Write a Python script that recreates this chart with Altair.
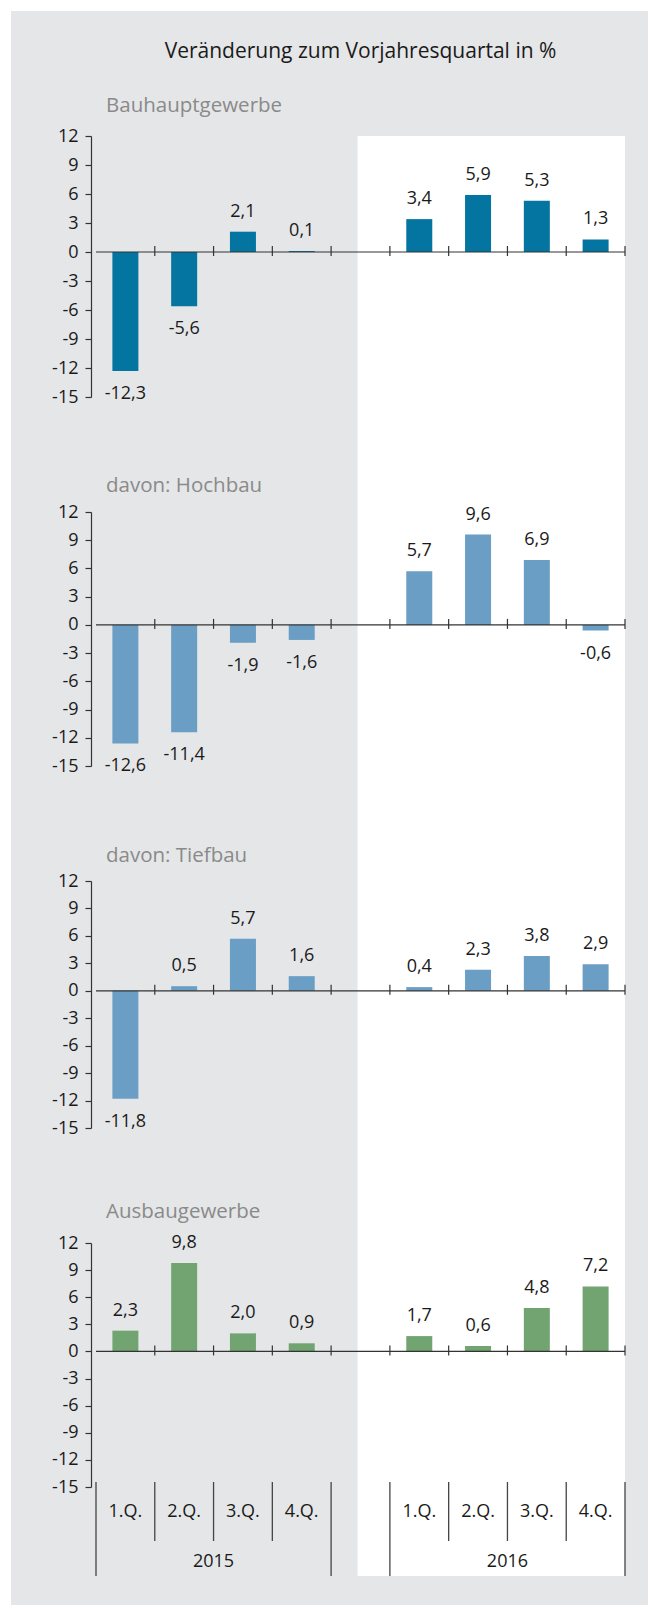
import altair as alt
import pandas as pd

FONT = "Open Sans"

main_title = "Veränderung zum Vorjahresquartal in %"
panel_titles = ["Bauhauptgewerbe", "davon: Hochbau", "davon: Tiefbau", "Ausbaugewerbe"]
quarters = ["1.Q.", "2.Q.", "3.Q.", "4.Q."]
years = ["2015", "2016"]

bauhaupt = [-12.3, -5.6, 2.1, 0.1, 3.4, 5.9, 5.3, 1.3]
hochbau = [-12.6, -11.4, -1.9, -1.6, 5.7, 9.6, 6.9, -0.6]
tiefbau = [-11.8, 0.5, 5.7, 1.6, 0.4, 2.3, 3.8, 2.9]
ausbau = [2.3, 9.8, 2.0, 0.9, 1.7, 0.6, 4.8, 7.2]

series = [bauhaupt, hochbau, tiefbau, ausbau]
bar_colors = ["#0474a1", "#6a9ec4", "#6a9ec4", "#72a472"]
y_ticks = [-15, -12, -9, -6, -3, 0, 3, 6, 9, 12]

GREY = "#e5e6e8"
TEXT = "#1a1a1a"
LINE = "#333333"
SUB = "#8a8a8a"

WIDTH = 539
heights = [261, 254, 247, 244]
SPACING = 115
title_offsets = [-115, -3, -4, 1]

n_slots = len(quarters) * 2 + 1          # 4 quarters, gap, 4 quarters
highlight_start = 4.45                   # white 2016 area starts inside the gap slot

xscale = alt.Scale(domain=[0, n_slots], nice=False, zero=False)
yscale = alt.Scale(domain=[y_ticks[0], y_ticks[-1]], nice=False, zero=False)

yaxis = alt.Axis(values=y_ticks, title=None, grid=False, domainColor=LINE,
                 domainWidth=1.2, tickColor=LINE, tickWidth=1.2, tickSize=6,
                 labelFontSize=18, labelFont=FONT, labelColor=TEXT,
                 labelPadding=7, labelExpr="datum.value + ''", zindex=1)


def slot_of(year_idx, q_idx):
    return year_idx * (len(quarters) + 1) + q_idx


def fmt(v):
    return f"{v:.1f}".replace(".", ",")


def bar_frame(values):
    rows = []
    for yi, yr in enumerate(years):
        for qi, q in enumerate(quarters):
            v = values[yi * len(quarters) + qi]
            rows.append({"year": yr, "quarter": q, "value": v,
                         "pos": slot_of(yi, qi) + 0.5, "label": fmt(v),
                         "zero": 0})
    return pd.DataFrame(rows)


X = lambda f: alt.X(f, type="quantitative", scale=xscale, axis=None)
Y = lambda f: alt.Y(f, type="quantitative", scale=yscale, axis=yaxis)


def panel(i):
    df = bar_frame(series[i])
    layers = []
    if i == 0:
        bg = alt.Chart(pd.DataFrame([{"a": 0}])).mark_rect(color=GREY).encode(
            x=alt.value(-80), x2=alt.value(557), y=alt.value(-125), y2=alt.value(1469))
        layers.append(bg)
    ext = SPACING if i < 3 else 89
    white = alt.Chart(pd.DataFrame([{"x0": highlight_start, "x1": n_slots,
                                     "yt": y_ticks[-1], "yb": y_ticks[0]}])).mark_rect(
        color="white", y2Offset=ext).encode(x=X("x0"), x2="x1", y=Y("yt"), y2="yb")
    layers.append(white)

    bars = alt.Chart(df).mark_bar(size=26, color=bar_colors[i]).encode(
        x=X("pos"), y=Y("value"), y2="zero")
    layers.append(bars)

    zl = alt.Chart(pd.DataFrame([{"x0": 0, "x1": n_slots, "y": 0}])).mark_rule(
        color=LINE, strokeWidth=1.2).encode(x=X("x0"), x2="x1", y=Y("y"))
    layers.append(zl)

    ticks = alt.Chart(pd.DataFrame({"x": list(range(1, n_slots + 1)), "y": 0})).mark_rule(
        color=LINE, strokeWidth=1.2, yOffset=-6, y2Offset=4).encode(
        x=X("x"), y=Y("y"), y2="y")
    layers.append(ticks)

    txt = dict(font=FONT, fontSize=18, color=TEXT, baseline="middle", align="center")
    pos_t = alt.Chart(df).transform_filter("datum.value >= 0").mark_text(dy=-20, **txt).encode(
        x=X("pos"), y=Y("value"), text="label:N")
    neg_t = alt.Chart(df).transform_filter("datum.value < 0").mark_text(dy=23, **txt).encode(
        x=X("pos"), y=Y("value"), text="label:N")
    layers += [pos_t, neg_t]

    if i == 3:
        base = y_ticks[0]
        ql = alt.Chart(df.assign(base=base)).mark_text(dy=25, **txt).encode(
            x=X("pos"), y=Y("base"), text="quarter:N")
        inner = [slot_of(yi, qi) for yi in range(2) for qi in range(1, len(quarters))]
        edges = [slot_of(yi, 0) for yi in range(2)] + [slot_of(yi, len(quarters)) for yi in range(2)]
        dv = alt.Chart(pd.DataFrame({"x": inner, "y": base})).mark_rule(
            color="#444444", strokeWidth=1.3, yOffset=-5, y2Offset=54).encode(
            x=X("x"), y=Y("y"), y2="y")
        ev = alt.Chart(pd.DataFrame({"x": edges, "y": base})).mark_rule(
            color="#444444", strokeWidth=1.3, yOffset=-5, y2Offset=89).encode(
            x=X("x"), y=Y("y"), y2="y")
        yl = alt.Chart(pd.DataFrame({"x": [slot_of(yi, 0) + len(quarters) / 2 for yi in range(2)],
                                     "year": years, "y": base})).mark_text(dy=75, **txt).encode(
            x=X("x"), y=Y("y"), text="year:N")
        layers += [ql, dv, ev, yl]

    return alt.layer(*layers).properties(
        width=WIDTH, height=heights[i],
        title=alt.TitleParams(text=panel_titles[i], anchor="start", frame="group", dx=15,
                              offset=title_offsets[i], baseline="middle", fontSize=20.5,
                              font=FONT, color=SUB, fontWeight="normal"))


chart = alt.vconcat(*[panel(i) for i in range(4)], spacing=SPACING, bounds="flush").properties(
    title=alt.TitleParams(text=main_title, anchor="middle", frame="group", offset=-62,
                          baseline="middle", fontSize=21, font=FONT, color=TEXT,
                          fontWeight="normal"),
    background="white",
    padding={"left": 11, "top": 11, "right": 0, "bottom": 0},
).configure_view(stroke=None, fill=None)

chart.save("out.html", embed_options={"renderer": "svg", "actions": False})
